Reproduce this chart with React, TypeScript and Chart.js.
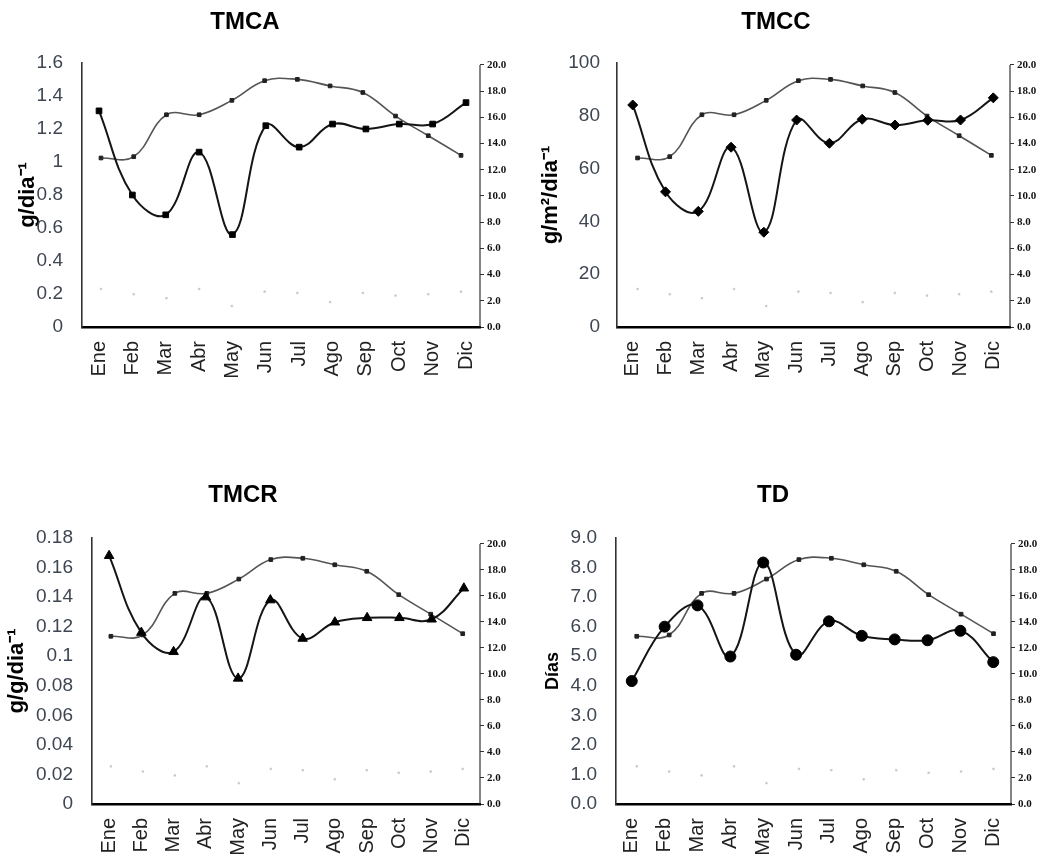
import React, { useEffect, useRef } from "react";
import { Chart, registerables } from "chart.js";

Chart.register(...registerables);

// ---------- DATA ----------
const MONTHS = ["Ene", "Feb", "Mar", "Abr", "May", "Jun", "Jul", "Ago", "Sep", "Oct", "Nov", "Dic"];
const TEMPERATURA = [12.9, 13.0, 16.2, 16.2, 17.3, 18.8, 18.9, 18.4, 17.9, 16.1, 14.6, 13.1];
const SERIE_GRIS = [2.9, 2.5, 2.2, 2.9, 1.6, 2.7, 2.6, 1.9, 2.6, 2.4, 2.5, 2.7];
const TMCA_VALUES = [1.31, 0.8, 0.68, 1.06, 0.56, 1.22, 1.09, 1.23, 1.2, 1.23, 1.23, 1.36];
const TMCC_VALUES = [84.1, 51.2, 43.8, 68.1, 35.9, 78.4, 69.6, 78.7, 76.5, 78.3, 78.4, 86.8];
const TMCR_VALUES = [0.168, 0.116, 0.103, 0.14, 0.085, 0.138, 0.112, 0.123, 0.126, 0.126, 0.125, 0.146];
const TD_VALUES = [4.16, 6.0, 6.72, 4.99, 8.17, 5.05, 6.18, 5.69, 5.57, 5.54, 5.86, 4.8];
const RIGHT_TICKS = [0, 2, 4, 6, 8, 10, 12, 14, 16, 18, 20];

type Panel = {
  title: string;
  yTitle: string;
  yTitleSize: number;
  values: number[];
  yMax: number;
  yStep: number;
  decimals: number | null;
  marker: string;
  markerRadius: number;
  box: { left: number; top: number; width: number; height: number };
  area: { left: number; right: number; top: number; bottom: number };
  titlePos: { x: number; y: number };
  yTitleX: number;
  tickPad: number;
  rightMax: number;
  mainRange: [number, number];
  tempRange: [number, number];
};

const PANELS: Panel[] = [
  {
    title: "TMCA",
    yTitle: "g/dia\u207B\u00B9",
    yTitleSize: 22,
    values: TMCA_VALUES,
    yMax: 1.6,
    yStep: 0.2,
    decimals: null,
    marker: "rect",
    markerRadius: 4,
    box: { left: 0, top: 0, width: 520, height: 430 },
    area: { left: 82, right: 480, top: 63, bottom: 327 },
    titlePos: { x: 245, y: 22 },
    yTitleX: 28,
    tickPad: 19,
    rightMax: 20.15,
    mainRange: [-0.51, 11.42],
    tempRange: [-0.58, 11.58],
  },
  {
    title: "TMCC",
    yTitle: "g/m\u00B2/dia\u207B\u00B9",
    yTitleSize: 22,
    values: TMCC_VALUES,
    yMax: 100,
    yStep: 20,
    decimals: null,
    marker: "rectRot",
    markerRadius: 5,
    box: { left: 520, top: 0, width: 521, height: 430 },
    area: { left: 97, right: 490, top: 63, bottom: 327 },
    titlePos: { x: 256, y: 22 },
    yTitleX: 31,
    tickPad: 17,
    rightMax: 20.15,
    mainRange: [-0.48, 11.51],
    tempRange: [-0.64, 11.58],
  },
  {
    title: "TMCR",
    yTitle: "g/g/dia\u207B\u00B9",
    yTitleSize: 22,
    values: TMCR_VALUES,
    yMax: 0.18,
    yStep: 0.02,
    decimals: null,
    marker: "triangle",
    markerRadius: 5.5,
    box: { left: 0, top: 430, width: 520, height: 431 },
    area: { left: 92, right: 480, top: 108, bottom: 374 },
    titlePos: { x: 243, y: 65 },
    yTitleX: 17,
    tickPad: 19,
    rightMax: 20.46,
    mainRange: [-0.53, 11.5],
    tempRange: [-0.59, 11.54],
  },
  {
    title: "TD",
    yTitle: "D\u00EDas",
    yTitleSize: 18,
    values: TD_VALUES,
    yMax: 9,
    yStep: 1,
    decimals: 1,
    marker: "circle",
    markerRadius: 5.5,
    box: { left: 520, top: 430, width: 521, height: 431 },
    area: { left: 96, right: 491, top: 108, bottom: 374 },
    titlePos: { x: 253, y: 65 },
    yTitleX: 33,
    tickPad: 19,
    rightMax: 20.46,
    mainRange: [-0.48, 11.54],
    tempRange: [-0.64, 11.54],
  },
];

const panelTitlePlugin = {
  id: "panelTitle",
  afterDraw(chart: any, _args: any, opts: any) {
    const ctx = chart.ctx;
    ctx.save();
    ctx.font = 'bold 24px "Liberation Sans", Arial, sans-serif';
    ctx.fillStyle = "#000";
    ctx.textAlign = "center";
    ctx.textBaseline = "middle";
    ctx.fillText(opts.text, opts.x, opts.y);
    ctx.restore();
  },
};

const rightAxisLinePlugin = {
  id: "rightAxisLine",
  afterDatasetsDraw(chart: any) {
    const s = chart.scales.y2;
    const ctx = chart.ctx;
    const x = chart.chartArea.right;
    ctx.save();
    ctx.strokeStyle = "#333";
    ctx.lineWidth = 1.2;
    ctx.beginPath();
    ctx.moveTo(x, s.getPixelForValue(0));
    ctx.lineTo(x, s.getPixelForValue(20));
    ctx.stroke();
    ctx.restore();
  },
};

function PanelChart({ p }: { p: Panel }) {
  const ref = useRef<HTMLCanvasElement | null>(null);
  useEffect(() => {
    if (!ref.current) return;
    const W = p.box.width;
    const H = p.box.height;
    const titleLine = p.yTitleSize * 1.2;
    const chart = new Chart(ref.current, {
      type: "line",
      data: {
        datasets: [
          {
            data: p.values.map((v, i) => ({ x: i, y: v })),
            xAxisID: "x",
            yAxisID: "y",
            borderColor: "#151515",
            borderWidth: 2,
            backgroundColor: "#000",
            pointStyle: p.marker as any,
            pointRadius: p.markerRadius,
            pointBackgroundColor: "#000",
            pointBorderColor: "#000",
            pointBorderWidth: 1,
            tension: 0.4,
          },
          {
            data: TEMPERATURA.map((v, i) => ({ x: i, y: v })),
            xAxisID: "x2",
            yAxisID: "y2",
            borderColor: "#555",
            borderWidth: 1.6,
            pointStyle: "rect",
            pointRadius: 2.6,
            pointBackgroundColor: "#222",
            pointBorderColor: "#222",
            pointBorderWidth: 1,
            tension: 0.4,
          },
          {
            data: SERIE_GRIS.map((v, i) => ({ x: i, y: v })),
            xAxisID: "x2",
            yAxisID: "y2",
            showLine: false,
            pointStyle: "rect",
            pointRadius: 1.2,
            pointBackgroundColor: "#c4c4c4",
            pointBorderColor: "#c4c4c4",
            pointBorderWidth: 0.5,
          },
        ],
      },
      options: {
        responsive: false,
        animation: false,
        events: [],
        layout: { padding: { left: 0, right: 0, top: p.area.top, bottom: 0 } },
        plugins: {
          legend: { display: false },
          tooltip: { enabled: false },
          title: { display: false },
          panelTitle: { text: p.title, x: p.titlePos.x, y: p.titlePos.y },
        } as any,
        scales: {
          x: {
            type: "linear",
            position: "bottom",
            min: p.mainRange[0],
            max: p.mainRange[1],
            afterBuildTicks: (s: any) => {
              s.ticks = MONTHS.map((_, i) => ({ value: i }));
            },
            afterFit: (s: any) => {
              s.height = H - p.area.bottom;
            },
            ticks: {
              autoSkip: false,
              minRotation: 90,
              maxRotation: 90,
              padding: 14,
              color: "#222",
              font: { family: '"Liberation Sans", Arial, sans-serif', size: 20 },
              callback: (v: any) => MONTHS[Math.round(Number(v))] ?? "",
            },
            grid: { display: false, drawTicks: false },
            border: { display: true, color: "#000", width: 2.6 },
          },
          x2: {
            type: "linear",
            display: false,
            min: p.tempRange[0],
            max: p.tempRange[1],
          },
          y: {
            position: "left",
            min: 0,
            max: p.yMax,
            afterFit: (s: any) => {
              s.width = p.area.left;
            },
            ticks: {
              stepSize: p.yStep,
              padding: p.tickPad,
              color: "#3e4652",
              font: { family: '"Liberation Sans", Arial, sans-serif', size: 19 },
              callback: (v: any) =>
                p.decimals === null ? String(Math.round(Number(v) * 1000) / 1000) : Number(v).toFixed(p.decimals),
            },
            grid: { display: false, drawTicks: false },
            border: { display: true, color: "#333", width: 1.6 },
            title: {
              display: true,
              text: p.yTitle,
              color: "#000",
              font: { family: '"Liberation Sans", Arial, sans-serif', size: p.yTitleSize, weight: "bold" },
              padding: { top: p.yTitleX - titleLine / 2, bottom: 0 },
            },
          },
          y2: {
            position: "right",
            min: 0,
            max: p.rightMax,
            afterBuildTicks: (s: any) => {
              s.ticks = RIGHT_TICKS.map((v) => ({ value: v }));
            },
            afterFit: (s: any) => {
              s.width = W - p.area.right;
            },
            ticks: {
              padding: 3,
              color: "#111",
              font: { family: '"Liberation Serif", "Times New Roman", serif', size: 11, weight: "bold" },
              callback: (v: any) => Number(v).toFixed(1),
            },
            grid: { display: true, drawOnChartArea: false, drawTicks: true, tickLength: 4, color: "#333", lineWidth: 1 },
            border: { display: false },
          },
        },
      } as any,
      plugins: [panelTitlePlugin as any, rightAxisLinePlugin as any],
    });
    return () => chart.destroy();
  }, [p]);

  return (
    <canvas
      ref={ref}
      width={p.box.width}
      height={p.box.height}
      style={{
        position: "absolute",
        left: p.box.left,
        top: p.box.top,
        width: p.box.width,
        height: p.box.height,
      }}
    />
  );
}

export default function App() {
  return (
    <div style={{ position: "absolute", left: 0, top: 0, width: 1041, height: 861, background: "#fff" }}>
      {PANELS.map((p) => (
        <PanelChart key={p.title} p={p} />
      ))}
    </div>
  );
}
